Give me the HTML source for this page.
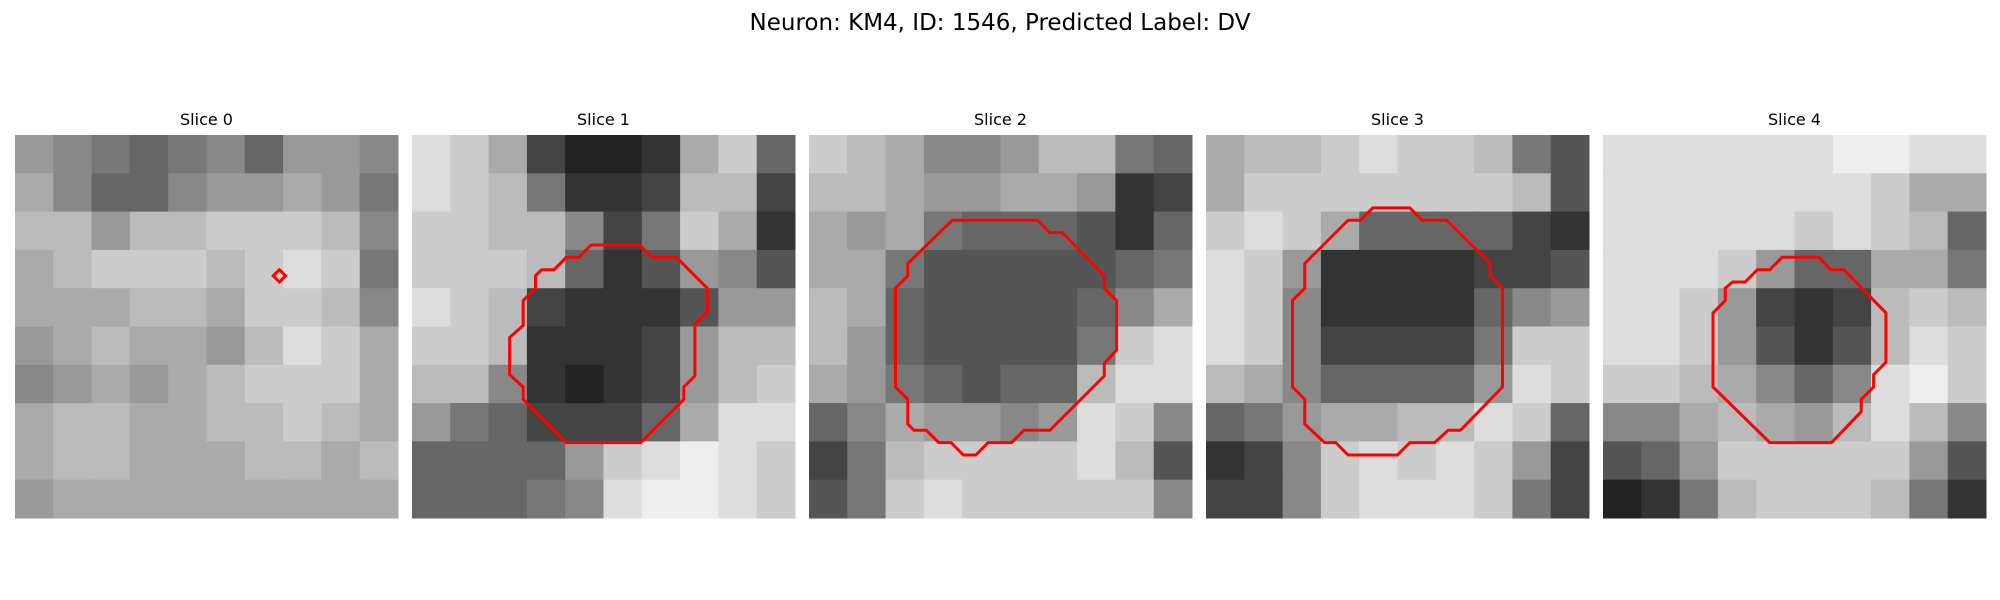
<!DOCTYPE html>
<html><head><meta charset="utf-8">
<style>
html,body{margin:0;padding:0;background:#fff;width:2000px;height:600px;overflow:hidden}
svg{display:block}
text{font-family:"DejaVu Sans","Liberation Sans",sans-serif;fill:#000}
</style></head>
<body>
<svg id="fig" width="2000" height="600" viewBox="0 0 2000 600">
<text x="1000" y="30" font-size="23" text-anchor="middle">Neuron: KM4, ID: 1546, Predicted Label: DV</text>
</svg>
<script>
// coarse grayscale grids (hex: 0 = black, f = white), 10x10 per slice
const slice0 = ["9876786998","a866899a97","bb9bbcccb8","abcccbcdc7","aaabbaccb8","9abaa9bdca8".slice(0,10),"89a9abcccа".slice(0,9)+"a","abbaabbcba","abbaaabbab","9aaaaaaaaa"];
const slice1 = ["dca4223ac6","dcb7334bb4","ccbb847ca3","cccb635985","dcb4333599","ccb33349bb","bb832349bc","9764446add","66669cdedc","66678deedc"];
const slice2 = ["cba889bb76","bba99aa934","a9a7666536","aa75555567","ba6555568a","b9655557cd","a976566bdd","68a9989dc8","47bccccdb5","57cdccccc8"];
const slice3 = ["abbcdccb75","acccccccb5","cdca666643","dc93333445","dc83333689","dc844447cc","ba866669dc","679aabbdc6","348cdcdc94","448cdddc74"];
const slice4 = ["ddddddeedd","dddddddcaa","dddddcdcb6","dddc966aa7","ddc9434bcb","ddc9535bdc","ccba868dec","88aba9bdb8","569ccccc95","237bcccb73"];
const slices = [slice0, slice1, slice2, slice3, slice4];
const sliceTitles = ["Slice 0","Slice 1","Slice 2","Slice 3","Slice 4"];
// outlines in image-cell coordinates (31x31 image)
const outline0 = [[21.4,10.9],[21.9,11.4],[21.4,11.9],[20.9,11.4]];
const outline1 = [[14.5,8.9],[18.4,8.9],[19.4,9.9],[21.4,9.9],[23.9,12.4],[23.9,14.3],[22.9,15.3],[22.9,19.5],[22.0,20.4],[22.0,21.4],[18.5,24.9],[12.5,24.9],[9.0,21.4],[9.0,20.4],[7.9,19.4],[7.9,16.4],[9.0,15.4],[9.0,13.4],[10.0,12.4],[10.0,11.4],[10.5,10.9],[11.5,10.9],[12.5,9.9],[13.5,9.9]];
const outline2 = [[11.6,6.9],[18.5,6.9],[19.5,7.9],[20.5,7.9],[23.9,11.4],[23.9,12.4],[24.9,13.4],[24.9,17.4],[23.9,18.5],[23.9,19.5],[19.5,23.9],[17.4,23.9],[16.4,24.9],[14.5,24.9],[13.5,25.9],[12.5,25.9],[11.5,24.9],[10.5,24.9],[9.5,23.9],[8.5,23.9],[8.0,23.4],[8.0,21.4],[7.0,20.4],[7.0,12.4],[8.0,11.4],[8.0,10.4]];
const outline3 = [[13.5,5.9],[16.5,5.9],[17.5,6.9],[19.5,6.9],[23.0,10.4],[23.0,11.4],[24.0,12.4],[24.0,20.4],[20.6,23.9],[19.6,23.9],[18.5,24.9],[16.5,24.9],[15.5,25.9],[11.5,25.9],[10.5,24.9],[9.6,24.9],[8.0,23.4],[8.0,21.4],[7.0,20.4],[7.0,13.4],[8.0,12.4],[8.0,10.4],[11.5,6.9],[12.5,6.9]];
const outline4 = [[14.5,9.9],[17.5,9.9],[18.4,10.9],[19.5,10.9],[22.9,14.4],[22.9,18.4],[21.9,19.4],[21.9,20.4],[20.9,21.4],[20.9,22.4],[18.5,24.9],[13.5,24.9],[8.9,20.4],[8.9,14.4],[9.9,13.4],[9.9,12.4],[10.5,11.9],[11.5,11.9],[12.5,10.9],[13.5,10.9]];
const outlines = [outline0, outline1, outline2, outline3, outline4];

const NS = "http://www.w3.org/2000/svg";
const svg = document.getElementById("fig");
const panelX0 = 15, panelStep = 397, panelY = 135, panelSize = 383, imgCells = 31;
function mk(tag, attrs){const e=document.createElementNS(NS,tag);for(const k in attrs)e.setAttribute(k,attrs[k]);return e;}

slices.forEach((grid, p) => {
  const px = panelX0 + p*panelStep;
  const g = mk("g", {});
  
  
  svg.appendChild(g);
  const t = mk("text", {x: px + panelSize/2, y: panelY - 10, "font-size": 16, "text-anchor": "middle"});
  
  
  t.textContent = sliceTitles[p];
  g.appendChild(t);
  const n = grid.length;
  const cs = panelSize / n;
  grid.forEach((row, r) => {
    for (let c = 0; c < n; c++) {
      let v = parseInt(row[c], 16);
      if (isNaN(v)) v = 10;
      const gv = Math.round(v * 17);
      const rect = mk("rect", {x: px + c*cs, y: panelY + r*cs, width: cs + 0.5, height: cs + 0.5, fill: `rgb(${gv},${gv},${gv})`});
      
      
      g.appendChild(rect);
    }
  });
  const ucs = panelSize / imgCells;
  const pts = outlines[p].map(([x,y]) => (px + x*ucs).toFixed(1) + "," + (panelY + y*ucs).toFixed(1)).join(" ");
  const poly = mk("polygon", {points: pts, fill: "none", stroke: "#ff0000", "stroke-width": 3, "stroke-linejoin": "miter"});
  
  
  g.appendChild(poly);
});
</script>
</body></html>
